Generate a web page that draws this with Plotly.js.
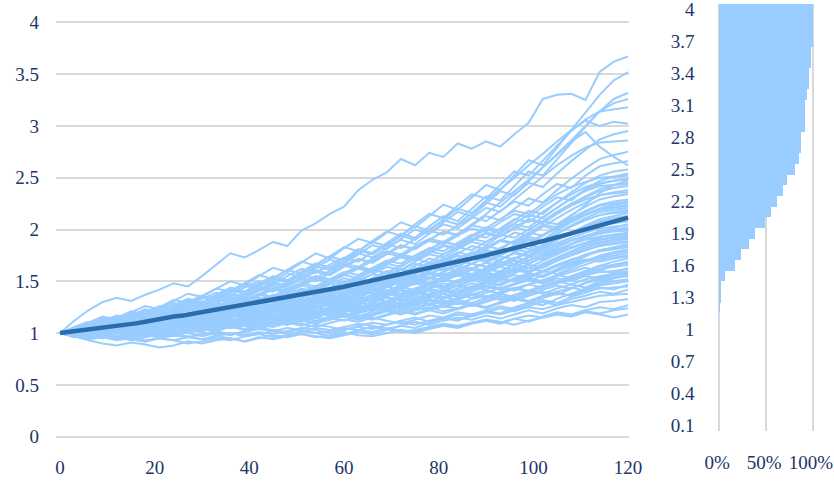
<!DOCTYPE html>
<html>
<head>
<meta charset="utf-8">
<script src="https://cdn.plot.ly/plotly-3.0.1.min.js"></script>
<style>
  html, body { margin: 0; padding: 0; background: #ffffff; }
  #chart { width: 834px; height: 481px; }
</style>
</head>
<body>
<div id="chart"></div>
<script>
// ---------------- DATA ----------------
// months at which the simulated paths were read (every 3rd month)
const pathMonths = [0,3,6,9,12,15,18,21,24,27,30,33,36,39,42,45,48,51,54,57,60,63,66,69,72,75,78,81,84,87,90,93,96,99,102,105,108,111,114,117,120];

// simulated wealth paths (one row per path)
const simulatedPaths = [
 [1.00,0.97,0.93,0.90,0.88,0.91,0.89,0.86,0.88,0.92, 0.90,0.93,0.95,0.92,0.96,0.94,0.97,0.99,0.96,0.98, 1.01,0.98,0.97,1.00,1.03,1.01,1.05,1.08,1.06,1.10, 1.12,1.09,1.14,1.17,1.15,1.19,1.16,1.20,1.18,1.15, 1.18],
 [1.00,1.02,0.98,0.95,0.97,0.94,0.92,0.95,0.93,0.90, 0.92,0.95,0.93,0.97,0.99,0.96,0.98,1.02,1.00,0.97, 0.99,1.03,1.01,1.05,1.02,1.00,1.04,1.07,1.05,1.09, 1.12,1.10,1.14,1.11,1.16,1.20,1.18,1.22,1.25,1.23, 1.27],
 [1.00,0.98,1.01,0.99,0.96,0.98,1.01,0.99,1.03,1.00, 0.97,1.00,0.98,1.02,1.05,1.03,1.01,1.04,1.08,1.06, 1.03,1.07,1.10,1.08,1.12,1.15,1.11,1.14,1.18,1.16, 1.20,1.24,1.21,1.26,1.30,1.27,1.33,1.36,1.40,1.38, 1.42],
 [1.00,1.03,1.06,1.04,1.08,1.05,1.09,1.12,1.10,1.07, 1.10,1.08,1.05,1.07,1.04,1.08,1.11,1.09,1.06,1.10, 1.13,1.11,1.15,1.12,1.09,1.13,1.17,1.15,1.20,1.18, 1.22,1.26,1.23,1.28,1.32,1.29,1.35,1.39,1.44,1.42, 1.47],
 [1.00,0.97,0.95,0.98,0.96,0.93,0.96,0.99,0.97,1.01, 1.04,1.02,1.06,1.03,1.07,1.10,1.08,1.12,1.09,1.13, 1.16,1.13,1.17,1.21,1.18,1.22,1.25,1.21,1.24,1.28, 1.25,1.30,1.34,1.31,1.36,1.40,1.44,1.41,1.47,1.50, 1.52],
 [1.00,1.02,1.05,1.03,1.00,1.04,1.07,1.05,1.09,1.13, 1.10,1.14,1.17,1.15,1.19,1.16,1.20,1.24,1.21,1.25, 1.28,1.24,1.27,1.23,1.26,1.30,1.27,1.31,1.28,1.33, 1.36,1.32,1.37,1.41,1.38,1.43,1.47,1.44,1.50,1.53, 1.55],
 [1.00,0.98,0.96,0.99,0.97,0.94,0.92,0.95,0.93,0.96, 0.94,0.97,0.95,0.92,0.95,0.98,0.96,0.99,0.97,0.95, 0.98,1.01,0.99,1.03,1.07,1.05,1.10,1.14,1.12,1.17, 1.21,1.19,1.25,1.29,1.27,1.33,1.38,1.43,1.48,1.53, 1.57],
 [1.00,1.04,1.02,1.06,1.09,1.07,1.11,1.15,1.12,1.16, 1.19,1.16,1.21,1.18,1.22,1.26,1.23,1.27,1.31,1.28, 1.32,1.29,1.34,1.30,1.35,1.39,1.36,1.41,1.37,1.42, 1.46,1.43,1.47,1.51,1.48,1.53,1.50,1.55,1.53,1.56, 1.58],
 [1.00,0.99,1.01,1.04,1.02,1.00,1.03,1.06,1.04,1.08, 1.06,1.03,1.06,1.09,1.07,1.11,1.08,1.12,1.15,1.13, 1.17,1.14,1.18,1.22,1.20,1.25,1.22,1.26,1.30,1.27, 1.32,1.36,1.33,1.38,1.42,1.46,1.43,1.49,1.54,1.57, 1.60],
 [1.00,1.01,0.98,1.00,1.03,1.06,1.04,1.08,1.05,1.02, 1.05,1.09,1.07,1.11,1.14,1.12,1.16,1.13,1.10,1.14, 1.18,1.16,1.21,1.25,1.22,1.27,1.31,1.28,1.33,1.37, 1.34,1.39,1.43,1.40,1.45,1.49,1.52,1.56,1.60,1.58, 1.63],
 [1.00,0.97,0.99,1.02,1.00,0.97,1.00,1.03,1.01,1.05, 1.08,1.05,1.09,1.12,1.10,1.14,1.18,1.15,1.19,1.23, 1.20,1.24,1.28,1.25,1.30,1.27,1.31,1.35,1.32,1.37, 1.41,1.38,1.43,1.47,1.51,1.48,1.54,1.58,1.62,1.64, 1.66],
 [1.00,1.03,1.01,0.99,1.02,1.05,1.03,1.00,1.03,1.07, 1.10,1.08,1.12,1.09,1.13,1.17,1.14,1.18,1.22,1.19, 1.23,1.27,1.24,1.29,1.33,1.30,1.34,1.38,1.35,1.40, 1.45,1.42,1.47,1.52,1.49,1.55,1.59,1.63,1.60,1.66, 1.69],
 [1.00,0.98,1.00,0.97,0.95,0.98,1.01,0.99,1.02,1.00, 1.04,1.07,1.05,1.09,1.06,1.10,1.14,1.11,1.15,1.19, 1.16,1.21,1.25,1.22,1.27,1.31,1.28,1.33,1.37,1.34, 1.39,1.44,1.41,1.47,1.51,1.56,1.53,1.60,1.65,1.69, 1.72],
 [1.00,1.04,1.07,1.11,1.09,1.14,1.17,1.15,1.20,1.24, 1.21,1.26,1.30,1.27,1.32,1.36,1.33,1.38,1.42,1.39, 1.44,1.48,1.45,1.50,1.53,1.49,1.54,1.51,1.56,1.52, 1.57,1.54,1.60,1.63,1.59,1.65,1.68,1.71,1.69,1.72, 1.74],
 [1.00,1.01,1.03,1.01,1.04,1.02,1.05,1.09,1.06,1.10, 1.13,1.10,1.14,1.12,1.16,1.20,1.17,1.21,1.25,1.22, 1.26,1.30,1.27,1.31,1.36,1.33,1.38,1.42,1.39,1.45, 1.49,1.46,1.52,1.57,1.54,1.60,1.65,1.69,1.73,1.75, 1.77],
 [1.00,0.96,0.98,0.95,0.97,1.00,0.98,1.01,1.04,1.02, 1.05,1.03,1.07,1.10,1.08,1.12,1.16,1.13,1.17,1.21, 1.25,1.22,1.27,1.31,1.28,1.34,1.38,1.35,1.41,1.45, 1.42,1.48,1.53,1.50,1.56,1.61,1.66,1.70,1.74,1.77, 1.79],
 [1.00,1.02,1.00,1.03,1.06,1.04,1.08,1.11,1.09,1.13, 1.10,1.14,1.18,1.15,1.19,1.23,1.20,1.25,1.29,1.26, 1.31,1.35,1.32,1.37,1.41,1.38,1.43,1.48,1.45,1.51, 1.55,1.52,1.58,1.63,1.60,1.66,1.71,1.75,1.79,1.81, 1.83],
 [1.00,0.99,0.97,1.00,1.02,1.00,0.98,1.01,1.05,1.03, 1.07,1.04,1.08,1.12,1.09,1.13,1.10,1.15,1.19,1.17, 1.22,1.26,1.23,1.28,1.33,1.30,1.36,1.41,1.38,1.44, 1.49,1.46,1.53,1.58,1.55,1.62,1.68,1.74,1.80,1.83, 1.86],
 [1.00,1.03,1.06,1.03,1.07,1.10,1.08,1.12,1.16,1.13, 1.17,1.21,1.18,1.23,1.27,1.24,1.29,1.26,1.31,1.35, 1.32,1.37,1.42,1.39,1.45,1.41,1.46,1.51,1.48,1.54, 1.59,1.55,1.61,1.66,1.63,1.70,1.75,1.80,1.85,1.87, 1.89],
 [1.00,0.98,1.01,1.04,1.01,0.99,1.02,1.00,1.04,1.07, 1.05,1.09,1.13,1.10,1.15,1.12,1.17,1.21,1.18,1.23, 1.27,1.24,1.30,1.35,1.32,1.38,1.43,1.40,1.46,1.51, 1.48,1.55,1.61,1.58,1.65,1.70,1.76,1.82,1.87,1.89, 1.91],
 [1.00,1.05,1.08,1.12,1.16,1.13,1.18,1.22,1.19,1.24, 1.28,1.25,1.30,1.34,1.31,1.36,1.33,1.38,1.43,1.40, 1.45,1.42,1.47,1.51,1.48,1.53,1.57,1.54,1.59,1.63, 1.60,1.66,1.70,1.67,1.73,1.78,1.83,1.87,1.90,1.92, 1.93],
 [1.00,1.01,0.99,1.02,1.00,1.03,1.06,1.03,1.07,1.10, 1.08,1.12,1.09,1.13,1.17,1.14,1.19,1.23,1.20,1.25, 1.30,1.27,1.33,1.38,1.35,1.41,1.46,1.43,1.49,1.54, 1.51,1.58,1.63,1.60,1.67,1.73,1.79,1.85,1.90,1.93, 1.95],
 [1.00,0.97,0.99,1.02,1.00,1.03,1.01,1.05,1.08,1.06, 1.10,1.14,1.11,1.16,1.20,1.17,1.22,1.26,1.23,1.28, 1.33,1.30,1.35,1.40,1.37,1.43,1.48,1.45,1.51,1.56, 1.53,1.60,1.66,1.63,1.70,1.76,1.82,1.87,1.93,1.95, 1.97],
 [1.00,1.02,1.05,1.03,1.06,1.09,1.07,1.11,1.14,1.12, 1.16,1.19,1.16,1.21,1.25,1.22,1.27,1.31,1.28,1.33, 1.37,1.34,1.40,1.45,1.42,1.48,1.53,1.50,1.56,1.61, 1.58,1.64,1.70,1.67,1.74,1.80,1.86,1.91,1.96,1.98, 1.99],
 [1.00,0.99,1.02,1.00,1.04,1.07,1.05,1.09,1.06,1.10, 1.14,1.11,1.16,1.20,1.17,1.22,1.26,1.23,1.29,1.34, 1.31,1.37,1.42,1.39,1.45,1.50,1.47,1.53,1.58,1.55, 1.61,1.67,1.73,1.70,1.77,1.83,1.89,1.94,1.98,2.00, 2.02],
 [1.00,0.97,0.95,0.97,0.94,0.96,0.99,0.97,1.00,1.04, 1.02,1.06,1.10,1.08,1.13,1.17,1.14,1.20,1.25,1.22, 1.28,1.33,1.30,1.36,1.42,1.39,1.46,1.52,1.49,1.56, 1.62,1.59,1.67,1.74,1.71,1.79,1.86,1.93,1.98,2.02, 2.05],
 [1.00,1.03,1.01,1.05,1.08,1.06,1.10,1.14,1.11,1.16, 1.20,1.17,1.22,1.26,1.23,1.28,1.33,1.30,1.35,1.40, 1.37,1.43,1.48,1.45,1.51,1.56,1.53,1.59,1.65,1.62, 1.68,1.74,1.71,1.78,1.84,1.90,1.95,2.00,2.04,2.06, 2.08],
 [1.00,1.01,1.04,1.02,1.00,1.03,1.07,1.05,1.09,1.13, 1.10,1.15,1.19,1.16,1.21,1.25,1.22,1.28,1.33,1.30, 1.36,1.41,1.38,1.44,1.50,1.47,1.53,1.58,1.55,1.62, 1.68,1.65,1.72,1.79,1.85,1.91,1.96,2.01,2.06,2.08, 2.10],
 [1.00,1.04,1.08,1.06,1.11,1.15,1.12,1.17,1.21,1.18, 1.23,1.27,1.24,1.29,1.34,1.31,1.36,1.41,1.38,1.43, 1.48,1.45,1.51,1.56,1.53,1.59,1.64,1.61,1.67,1.72, 1.69,1.75,1.81,1.78,1.85,1.91,1.97,2.03,2.08,2.11, 2.13],
 [1.00,0.98,1.00,1.03,1.01,1.05,1.09,1.06,1.10,1.14, 1.12,1.17,1.21,1.18,1.23,1.28,1.25,1.31,1.36,1.33, 1.39,1.44,1.41,1.47,1.53,1.50,1.57,1.63,1.60,1.67, 1.73,1.70,1.78,1.85,1.82,1.90,1.97,2.04,2.10,2.13, 2.16],
 [1.00,1.02,1.00,1.03,1.07,1.04,1.08,1.12,1.10,1.14, 1.18,1.15,1.20,1.25,1.22,1.27,1.32,1.29,1.35,1.40, 1.45,1.42,1.48,1.54,1.51,1.57,1.63,1.60,1.67,1.73, 1.70,1.77,1.84,1.81,1.89,1.96,2.03,2.09,2.14,2.17, 2.19],
 [1.00,1.03,1.07,1.05,1.09,1.13,1.10,1.15,1.19,1.16, 1.21,1.26,1.23,1.28,1.33,1.30,1.36,1.41,1.38,1.44, 1.50,1.47,1.53,1.59,1.56,1.62,1.68,1.65,1.72,1.78, 1.75,1.82,1.89,1.86,1.94,2.01,2.08,2.14,2.19,2.21, 2.23],
 [1.00,0.98,0.96,0.99,0.97,1.00,1.03,1.01,1.05,1.09, 1.07,1.12,1.17,1.14,1.20,1.25,1.22,1.28,1.34,1.31, 1.38,1.44,1.41,1.48,1.55,1.52,1.60,1.67,1.64,1.72, 1.79,1.76,1.85,1.93,1.90,1.99,2.07,2.14,2.20,2.24, 2.26],
 [1.00,1.01,1.04,1.08,1.05,1.09,1.13,1.11,1.15,1.19, 1.16,1.21,1.26,1.23,1.29,1.34,1.31,1.37,1.43,1.40, 1.46,1.52,1.49,1.56,1.62,1.59,1.66,1.72,1.69,1.77, 1.84,1.81,1.89,1.97,1.94,2.03,2.11,2.18,2.24,2.27, 2.29],
 [1.00,1.03,1.06,1.04,1.08,1.12,1.16,1.13,1.18,1.22, 1.26,1.23,1.28,1.33,1.30,1.36,1.42,1.39,1.45,1.51, 1.48,1.55,1.61,1.58,1.65,1.72,1.68,1.76,1.83,1.80, 1.88,1.95,1.92,2.00,2.08,2.05,2.14,2.22,2.29,2.32, 2.34],
 [1.00,0.99,1.02,1.06,1.04,1.08,1.05,1.10,1.14,1.12, 1.17,1.22,1.19,1.25,1.30,1.27,1.33,1.39,1.36,1.43, 1.49,1.46,1.53,1.60,1.57,1.65,1.72,1.69,1.77,1.84, 1.81,1.89,1.97,1.94,2.03,2.11,2.19,2.26,2.33,2.36, 2.38],
 [1.00,1.05,1.09,1.14,1.11,1.17,1.22,1.19,1.25,1.30, 1.27,1.33,1.38,1.35,1.41,1.46,1.43,1.49,1.55,1.52, 1.58,1.64,1.61,1.68,1.74,1.71,1.78,1.85,1.82,1.90, 1.97,1.94,2.02,2.10,2.07,2.16,2.24,2.31,2.37,2.40, 2.42],
 [1.00,1.02,1.05,1.03,1.07,1.11,1.09,1.14,1.18,1.15, 1.20,1.25,1.22,1.28,1.34,1.31,1.37,1.43,1.40,1.47, 1.53,1.50,1.57,1.64,1.61,1.69,1.76,1.73,1.81,1.88, 1.85,1.94,2.02,1.99,2.08,2.17,2.25,2.32,2.39,2.43, 2.45],
 [1.00,0.98,1.01,0.99,1.03,1.01,1.05,1.09,1.07,1.11, 1.15,1.12,1.17,1.22,1.19,1.25,1.30,1.27,1.34,1.40, 1.37,1.44,1.51,1.48,1.56,1.63,1.60,1.68,1.75,1.72, 1.81,1.89,1.86,1.96,2.05,2.02,2.13,2.24,2.35,2.43, 2.47],
 [1.00,1.03,1.07,1.11,1.08,1.13,1.18,1.15,1.21,1.26, 1.23,1.29,1.35,1.32,1.38,1.44,1.41,1.48,1.54,1.51, 1.58,1.64,1.61,1.69,1.76,1.73,1.81,1.88,1.85,1.93, 2.00,1.97,2.06,2.14,2.11,2.21,2.30,2.38,2.44,2.47, 2.49],
 [1.00,1.04,1.08,1.06,1.11,1.16,1.13,1.19,1.24,1.21, 1.27,1.33,1.30,1.37,1.43,1.40,1.47,1.53,1.50,1.58, 1.65,1.62,1.70,1.77,1.74,1.82,1.89,1.86,1.94,2.01, 1.98,2.07,2.15,2.12,2.22,2.31,2.28,2.39,2.47,2.51, 2.54],
 [1.00,1.01,1.05,1.09,1.06,1.11,1.15,1.12,1.18,1.23, 1.20,1.26,1.32,1.29,1.36,1.42,1.39,1.46,1.53,1.50, 1.57,1.63,1.60,1.68,1.75,1.72,1.80,1.88,1.85,1.94, 2.02,1.99,2.09,2.18,2.15,2.26,2.36,2.45,2.52,2.56, 2.58],
 [1.00,1.05,1.10,1.07,1.13,1.19,1.16,1.23,1.29,1.26, 1.33,1.39,1.36,1.44,1.50,1.47,1.55,1.62,1.58,1.66, 1.73,1.69,1.78,1.86,1.82,1.91,1.99,1.95,2.04,2.12, 2.08,2.18,2.27,2.23,2.34,2.44,2.40,2.52,2.61,2.64, 2.66],
 [1.00,1.02,1.06,1.11,1.08,1.14,1.19,1.16,1.22,1.28, 1.25,1.32,1.38,1.35,1.42,1.49,1.46,1.54,1.61,1.57, 1.65,1.72,1.68,1.77,1.85,1.81,1.90,1.98,1.94,2.04, 2.13,2.09,2.20,2.30,2.26,2.38,2.49,2.59,2.68,2.72, 2.75],
 [1.00,1.04,1.09,1.14,1.11,1.17,1.23,1.20,1.27,1.33, 1.30,1.37,1.44,1.40,1.48,1.55,1.51,1.59,1.67,1.63, 1.72,1.80,1.76,1.85,1.94,1.90,2.00,2.09,2.05,2.16, 2.26,2.22,2.34,2.45,2.41,2.54,2.66,2.77,2.87,2.92, 2.95],
 [1.00,1.03,1.07,1.12,1.17,1.14,1.20,1.26,1.23,1.30, 1.36,1.33,1.41,1.48,1.45,1.53,1.61,1.57,1.66,1.74, 1.70,1.79,1.88,1.84,1.94,2.03,1.99,2.10,2.20,2.16, 2.28,2.39,2.50,2.62,2.73,2.85,2.96,3.05,3.00,3.04, 3.02],
 [1.00,1.06,1.11,1.08,1.15,1.21,1.18,1.25,1.32,1.29, 1.36,1.43,1.40,1.48,1.56,1.52,1.61,1.69,1.65,1.74, 1.83,1.79,1.89,1.98,1.94,2.05,2.15,2.11,2.23,2.34, 2.30,2.43,2.56,2.52,2.67,2.81,2.95,3.06,3.14,3.16, 3.18],
 [1.00,1.04,1.08,1.13,1.10,1.16,1.22,1.19,1.26,1.32, 1.29,1.36,1.43,1.39,1.47,1.54,1.50,1.59,1.67,1.63, 1.72,1.81,1.77,1.87,1.96,1.92,2.03,2.13,2.08,2.20, 2.32,2.28,2.42,2.56,2.52,2.68,2.84,2.99,3.14,3.26, 3.32],
 [1.00,1.05,1.10,1.16,1.13,1.20,1.26,1.23,1.31,1.38, 1.35,1.43,1.50,1.46,1.55,1.63,1.59,1.68,1.77,1.72, 1.82,1.91,1.87,1.97,2.07,2.02,2.13,2.24,2.19,2.31, 2.43,2.38,2.53,2.67,2.62,2.79,2.96,3.13,3.30,3.44, 3.52],
 [1.00,1.12,1.22,1.30,1.34,1.31,1.37,1.42,1.48,1.45, 1.55,1.66,1.77,1.73,1.80,1.88,1.84,1.99,2.06,2.15, 2.22,2.38,2.48,2.55,2.68,2.62,2.74,2.70,2.83,2.78, 2.85,2.80,2.92,3.03,3.26,3.30,3.31,3.25,3.52,3.62, 3.67],
 [1.00,1.02,0.99,1.01,0.98,0.96,0.99,1.02,1.00,1.03, 1.01,0.98,1.00,0.97,0.99,1.02,1.05,1.03,1.00,1.02, 1.05,1.03,1.06,1.04,1.01,1.03,1.06,1.09,1.07,1.10, 1.13,1.11,1.08,1.12,1.15,1.18,1.16,1.21,1.19,1.22, 1.24],
 [1.00,0.98,1.00,0.97,0.94,0.96,0.93,0.95,0.98,0.96, 0.99,1.02,0.99,1.01,1.04,1.02,0.99,1.01,1.05,1.03, 1.06,1.09,1.07,1.04,1.07,1.11,1.08,1.12,1.15,1.13, 1.17,1.14,1.18,1.22,1.19,1.24,1.27,1.25,1.30,1.31, 1.33],
 [1.00,1.03,1.01,1.04,1.07,1.05,1.02,1.05,1.08,1.11, 1.09,1.13,1.10,1.07,1.10,1.14,1.17,1.15,1.12,1.16, 1.19,1.17,1.14,1.18,1.21,1.19,1.23,1.26,1.24,1.28, 1.25,1.29,1.33,1.30,1.34,1.38,1.36,1.41,1.43,1.44, 1.45],
 [1.00,0.99,0.97,1.00,1.03,1.00,1.04,1.01,0.98,1.02, 1.05,1.03,1.07,1.04,1.08,1.06,1.10,1.07,1.11,1.15, 1.12,1.16,1.13,1.17,1.21,1.18,1.22,1.19,1.23,1.27, 1.24,1.29,1.33,1.30,1.35,1.39,1.36,1.42,1.46,1.48, 1.50],
 [1.00,1.02,1.04,1.01,1.03,1.06,1.09,1.06,1.03,1.06, 1.09,1.12,1.09,1.13,1.10,1.13,1.17,1.14,1.18,1.21, 1.18,1.15,1.19,1.23,1.20,1.24,1.28,1.25,1.29,1.26, 1.30,1.34,1.31,1.36,1.40,1.37,1.43,1.48,1.52,1.54, 1.56],
 [1.00,0.97,1.00,0.98,1.01,0.99,1.02,1.05,1.02,1.06, 1.09,1.06,1.10,1.14,1.11,1.15,1.12,1.16,1.20,1.17, 1.21,1.25,1.22,1.26,1.30,1.27,1.24,1.28,1.32,1.29, 1.34,1.38,1.35,1.40,1.44,1.48,1.52,1.56,1.59,1.60, 1.62],
 [1.00,1.01,1.04,1.07,1.04,1.01,1.04,1.07,1.05,1.02, 1.05,1.08,1.11,1.09,1.13,1.16,1.13,1.17,1.21,1.18, 1.22,1.19,1.23,1.27,1.24,1.28,1.32,1.29,1.33,1.37, 1.41,1.38,1.43,1.47,1.44,1.50,1.55,1.60,1.64,1.66, 1.68],
 [1.00,0.98,0.95,0.98,1.01,0.99,1.02,1.00,1.04,1.08, 1.05,1.09,1.13,1.10,1.14,1.18,1.15,1.19,1.16,1.20, 1.24,1.21,1.26,1.30,1.27,1.32,1.36,1.33,1.38,1.42, 1.46,1.43,1.48,1.53,1.50,1.56,1.61,1.66,1.71,1.73, 1.75],
 [1.00,1.03,1.00,1.04,1.07,1.10,1.07,1.11,1.14,1.11, 1.15,1.18,1.15,1.19,1.23,1.20,1.24,1.28,1.25,1.29, 1.33,1.30,1.34,1.38,1.35,1.40,1.37,1.42,1.46,1.43, 1.48,1.53,1.50,1.55,1.60,1.57,1.63,1.69,1.75,1.78, 1.81],
 [1.00,0.99,1.01,0.98,1.00,1.03,1.01,1.04,1.07,1.05, 1.08,1.12,1.09,1.13,1.17,1.14,1.18,1.22,1.19,1.24, 1.28,1.25,1.29,1.34,1.31,1.36,1.41,1.38,1.43,1.48, 1.45,1.51,1.56,1.53,1.59,1.65,1.70,1.76,1.80,1.82, 1.84],
 [1.00,1.02,1.05,1.08,1.06,1.09,1.13,1.10,1.14,1.18, 1.15,1.19,1.23,1.20,1.24,1.21,1.25,1.29,1.26,1.31, 1.35,1.32,1.37,1.41,1.38,1.43,1.47,1.44,1.50,1.54, 1.51,1.57,1.62,1.59,1.65,1.70,1.75,1.80,1.84,1.86, 1.88],
 [1.00,0.98,1.00,1.03,1.00,1.04,1.08,1.05,1.09,1.06, 1.10,1.14,1.11,1.16,1.20,1.17,1.22,1.26,1.23,1.28, 1.32,1.29,1.34,1.39,1.36,1.41,1.46,1.43,1.49,1.53, 1.50,1.56,1.62,1.59,1.66,1.72,1.78,1.84,1.88,1.90, 1.92],
 [1.00,1.01,1.03,1.06,1.04,1.07,1.11,1.08,1.12,1.16, 1.20,1.17,1.21,1.25,1.22,1.27,1.31,1.28,1.33,1.37, 1.34,1.39,1.44,1.41,1.46,1.51,1.48,1.54,1.59,1.56, 1.62,1.67,1.64,1.70,1.76,1.81,1.86,1.90,1.93,1.95, 1.96],
 [1.00,0.97,1.00,1.03,1.06,1.03,1.07,1.11,1.08,1.12, 1.16,1.13,1.18,1.22,1.19,1.24,1.28,1.25,1.30,1.35, 1.32,1.38,1.43,1.40,1.46,1.51,1.48,1.54,1.60,1.57, 1.63,1.69,1.66,1.73,1.79,1.85,1.90,1.94,1.97,1.99, 2.00],
 [1.00,1.03,1.06,1.04,1.08,1.12,1.09,1.13,1.17,1.14, 1.19,1.23,1.20,1.25,1.29,1.26,1.31,1.36,1.33,1.38, 1.43,1.40,1.46,1.51,1.48,1.54,1.59,1.56,1.62,1.67, 1.64,1.71,1.77,1.74,1.81,1.87,1.92,1.97,2.01,2.03, 2.04],
 [1.00,1.02,0.99,1.02,1.05,1.09,1.06,1.10,1.14,1.11, 1.15,1.20,1.17,1.22,1.26,1.23,1.28,1.33,1.30,1.36, 1.41,1.38,1.44,1.49,1.46,1.52,1.58,1.55,1.61,1.67, 1.64,1.71,1.78,1.75,1.83,1.90,1.96,2.02,2.07,2.09, 2.11],
 [1.00,1.04,1.07,1.05,1.09,1.13,1.17,1.14,1.19,1.23, 1.20,1.25,1.30,1.27,1.32,1.37,1.34,1.40,1.45,1.42, 1.48,1.53,1.50,1.56,1.61,1.58,1.64,1.70,1.67,1.74, 1.80,1.77,1.84,1.91,1.88,1.96,2.03,2.09,2.14,2.16, 2.17],
 [1.00,0.99,1.02,1.05,1.03,1.07,1.11,1.08,1.13,1.17, 1.14,1.19,1.24,1.21,1.26,1.31,1.28,1.34,1.39,1.36, 1.42,1.47,1.44,1.51,1.57,1.54,1.61,1.67,1.64,1.71, 1.78,1.75,1.83,1.90,1.87,1.96,2.04,2.11,2.17,2.19, 2.21],
 [1.00,1.03,1.01,1.05,1.09,1.06,1.11,1.16,1.13,1.18, 1.23,1.20,1.26,1.31,1.28,1.34,1.39,1.36,1.42,1.48, 1.45,1.51,1.57,1.54,1.61,1.67,1.64,1.71,1.78,1.75, 1.83,1.90,1.87,1.95,2.03,2.00,2.09,2.17,2.23,2.25, 2.27],
 [1.00,1.04,1.08,1.12,1.09,1.14,1.19,1.16,1.21,1.26, 1.23,1.29,1.34,1.31,1.37,1.43,1.40,1.46,1.52,1.49, 1.56,1.62,1.59,1.66,1.73,1.70,1.77,1.84,1.81,1.89, 1.96,1.93,2.01,2.09,2.06,2.15,2.23,2.29,2.33,2.35, 2.36],
 [1.00,1.02,1.06,1.04,1.08,1.13,1.10,1.15,1.20,1.17, 1.23,1.28,1.25,1.31,1.37,1.34,1.40,1.46,1.43,1.50, 1.56,1.53,1.60,1.67,1.64,1.72,1.79,1.76,1.84,1.91, 1.88,1.97,2.05,2.02,2.12,2.21,2.30,2.37,2.42,2.43, 2.44],
 [1.00,1.05,1.09,1.07,1.12,1.17,1.14,1.20,1.26,1.23, 1.29,1.35,1.32,1.39,1.45,1.42,1.49,1.56,1.53,1.60, 1.67,1.64,1.72,1.79,1.76,1.84,1.91,1.88,1.96,2.04, 2.01,2.10,2.18,2.15,2.25,2.34,2.41,2.46,2.50,2.51, 2.52],
 [1.00,1.03,1.07,1.11,1.08,1.13,1.18,1.15,1.21,1.27, 1.24,1.31,1.37,1.34,1.41,1.48,1.45,1.52,1.59,1.56, 1.64,1.71,1.68,1.76,1.84,1.81,1.90,1.98,1.95,2.05, 2.15,2.26,2.37,2.48,2.60,2.72,2.85,2.94,2.80,2.70, 2.62],
 [1.00,1.04,1.08,1.05,1.10,1.15,1.21,1.18,1.24,1.30, 1.27,1.34,1.41,1.38,1.45,1.52,1.49,1.57,1.64,1.61, 1.69,1.77,1.73,1.82,1.90,1.86,1.96,2.05,2.01,2.11, 2.21,2.17,2.29,2.40,2.51,2.62,2.71,2.79,2.84,2.85, 2.86],
 [1.00,1.02,1.06,1.10,1.15,1.12,1.18,1.24,1.21,1.28, 1.35,1.31,1.39,1.46,1.42,1.50,1.58,1.54,1.63,1.71, 1.67,1.76,1.85,1.81,1.91,2.00,1.96,2.07,2.17,2.13, 2.25,2.37,2.33,2.47,2.60,2.73,2.86,3.00,3.14,3.22, 3.26],
 [1.00,0.97,0.94,0.96,0.93,0.95,0.98,0.96,0.99,0.97, 0.94,0.97,1.00,0.98,1.01,0.99,1.02,1.05,1.03,1.00, 1.03,1.06,1.04,1.08,1.11,1.08,1.12,1.15,1.13,1.17, 1.20,1.18,1.22,1.25,1.23,1.27,1.30,1.33,1.36,1.37, 1.38],
 [1.00,1.02,1.00,0.97,1.00,1.03,1.06,1.03,1.07,1.04, 1.08,1.11,1.08,1.12,1.15,1.12,1.16,1.19,1.16,1.20, 1.23,1.20,1.24,1.28,1.25,1.29,1.33,1.30,1.34,1.38, 1.35,1.40,1.44,1.41,1.46,1.50,1.47,1.52,1.55,1.57, 1.58],
 [1.00,1.03,1.06,1.04,1.07,1.11,1.08,1.12,1.16,1.13, 1.17,1.14,1.18,1.22,1.19,1.24,1.28,1.25,1.30,1.34, 1.31,1.36,1.41,1.38,1.43,1.48,1.45,1.51,1.56,1.53, 1.59,1.64,1.61,1.67,1.73,1.78,1.83,1.87,1.91,1.92, 1.93],
 [1.00,0.98,1.01,1.04,1.02,1.06,1.10,1.07,1.11,1.15, 1.19,1.16,1.21,1.26,1.23,1.28,1.33,1.30,1.36,1.41, 1.38,1.44,1.50,1.47,1.54,1.60,1.57,1.64,1.70,1.67, 1.75,1.82,1.79,1.87,1.95,2.02,2.09,2.15,2.20,2.22, 2.24],
 [1.00,1.03,1.07,1.05,1.09,1.14,1.11,1.16,1.21,1.18, 1.24,1.29,1.26,1.32,1.38,1.35,1.42,1.48,1.45,1.52, 1.59,1.56,1.63,1.70,1.67,1.75,1.82,1.79,1.87,1.95, 1.92,2.01,2.10,2.07,2.17,2.26,2.34,2.41,2.45,2.47, 2.48]
];

// average path (read every 2nd month)
const meanMonths = [0,2,4,6,8,10,12,14,16,18,20,22,24,26,28,30,32,34,36,38,40,42,44,46,48,50,52,54,56,58,60,62,64,66,68,70,72,74,76,78,80,82,84,86,88,90,92,94,96,98,100,102,104,106,108,110,112,114,116,118,120];
const meanPath = [1.000,1.012,1.014,1.030,1.046,1.052,1.069,1.080,1.094,1.110,
                  1.128,1.140,1.160,1.170,1.186,1.204,1.216,1.233,1.250,1.262,
                  1.282,1.296,1.310,1.330,1.345,1.360,1.380,1.396,1.414,1.432,
                  1.447,1.468,1.488,1.505,1.524,1.546,1.562,1.585,1.604,1.622,
                  1.646,1.663,1.686,1.708,1.728,1.750,1.774,1.795,1.818,1.840,
                  1.866,1.888,1.912,1.936,1.962,1.984,2.010,2.036,2.060,2.088,
                  2.115];

// right panel: cumulative share of final values at or below each level
const finalLevels = ["0.1","0.2","0.3","0.4","0.5","0.6","0.7","0.8","0.9","1",
                     "1.1","1.2","1.3","1.4","1.5","1.6","1.7","1.8","1.9","2",
                     "2.1","2.2","2.3","2.4","2.5","2.6","2.7","2.8","2.9","3",
                     "3.1","3.2","3.3","3.4","3.5","3.6","3.7","3.8","3.9","4"];
const cumulativeShare = [0,0,0,0,0,0,0,0,0,0,
                         0,0.007,0.021,0.021,0.064,0.171,0.235,0.320,0.384,0.488,
                         0.552,0.616,0.680,0.722,0.808,0.850,0.872,0.872,0.915,0.915,
                         0.915,0.936,0.957,0.957,0.979,0.979,1,1,1,1];

const leftXTicks = [0,20,40,60,80,100,120];
const rightXTicks = [0,0.5,1];
const rightXTickText = ["0%","50%","100%"];

// ---------------- STYLE ----------------
const W = 834, H = 481;
const textColor = "#1d3567";
const gridColor = "#d9d9d9";
const pathColor = "#99ccff";
const meanColor = "#2b6cad";
const fontFamily = "'Liberation Serif', 'DejaVu Serif', serif";
const tickFont = {family: fontFamily, size: 19, color: textColor};

const px2fx = p => p / W;
const px2fy = p => (H - p) / H;

const traces = [];
simulatedPaths.forEach(row => {
  traces.push({
    type: "scatter", mode: "lines", x: pathMonths, y: row,
    xaxis: "x", yaxis: "y",
    line: {color: pathColor, width: 2},
    hoverinfo: "skip", showlegend: false
  });
});
traces.push({
  type: "scatter", mode: "lines", x: meanMonths, y: meanPath,
  xaxis: "x", yaxis: "y",
  line: {color: meanColor, width: 4.5},
  hoverinfo: "skip", showlegend: false
});
traces.push({
  type: "bar", orientation: "h", x: cumulativeShare, y: finalLevels,
  xaxis: "x2", yaxis: "y2",
  marker: {color: pathColor, line: {width: 0}},
  hoverinfo: "skip", showlegend: false
});

const layout = {
  width: W, height: H,
  margin: {l: 0, r: 0, t: 0, b: 0, pad: 0},
  paper_bgcolor: "#ffffff", plot_bgcolor: "rgba(0,0,0,0)",
  showlegend: false, bargap: 0,
  font: tickFont,
  xaxis: {
    domain: [px2fx(56), px2fx(629)],
    range: [-0.85, 120.2],
    tickvals: leftXTicks,
    showgrid: false, zeroline: false, showline: false, ticks: "",
    tickfont: tickFont, ticklabelstandoff: 14,
    fixedrange: true
  },
  yaxis: {
    domain: [px2fy(439.8), px2fy(19.2)],
    range: [-0.03, 4.03],
    tick0: 0, dtick: 0.5,
    showgrid: true, gridcolor: gridColor, gridwidth: 2,
    zeroline: false, showline: false, ticks: "",
    tickfont: tickFont, ticklabelstandoff: 16,
    fixedrange: true
  },
  xaxis2: {
    anchor: "y2",
    domain: [px2fx(717.4), px2fx(814.9)],
    range: [-0.02, 1.02],
    tickvals: rightXTicks, ticktext: rightXTickText,
    showgrid: true, gridcolor: gridColor, gridwidth: 2,
    zeroline: false, showline: false, ticks: "",
    tickfont: tickFont, ticklabelstandoff: 18,
    ticklabeloverflow: "allow", ticklabelshift: -2,
    fixedrange: true
  },
  yaxis2: {
    anchor: "x2", type: "category",
    categoryorder: "array", categoryarray: finalLevels,
    domain: [px2fy(430.8), px2fy(4)],
    range: [-0.5, finalLevels.length - 0.5],
    tickvals: finalLevels.filter((_, i) => i % 3 === 0),
    showgrid: false, zeroline: false, showline: false, ticks: "",
    tickfont: tickFont, ticklabelstandoff: 22,
    fixedrange: true
  }
};

Plotly.newPlot("chart", traces, layout, {displayModeBar: false, staticPlot: true});
</script>
</body>
</html>
